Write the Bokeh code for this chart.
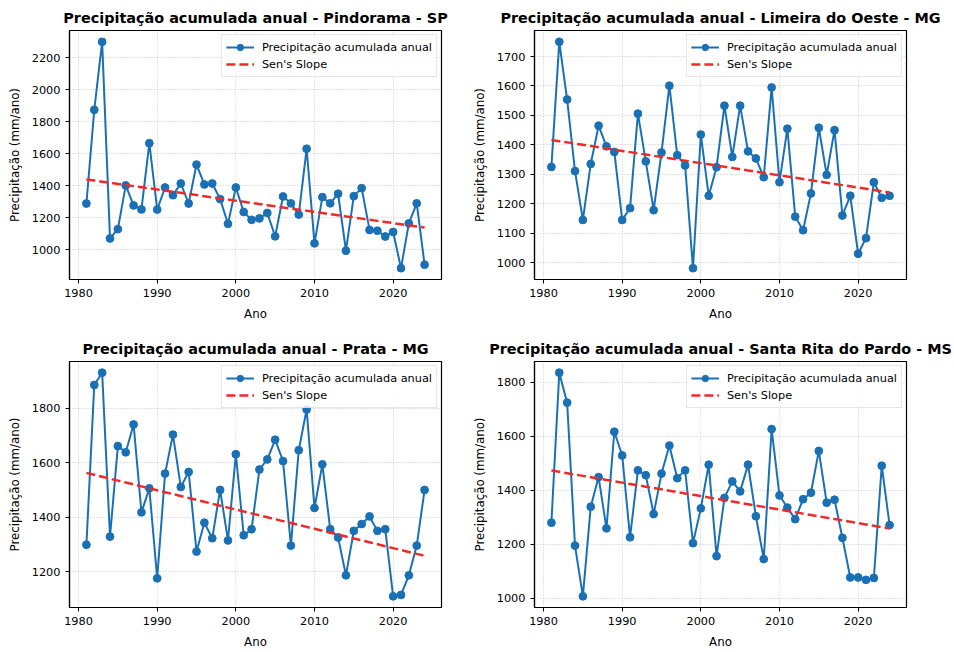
import numpy as np
from bokeh.plotting import figure
from bokeh.layouts import column, row
from bokeh.models import Range1d, Legend, LegendItem, FixedTicker
from bokeh.embed import file_html
from bokeh.resources import INLINE

years = list(range(1981, 2025))

pindorama = [1290, 1875, 2300, 1072, 1130, 1403, 1278, 1253, 1667, 1252,
             1390, 1342, 1415, 1290, 1533, 1409, 1415, 1318, 1163, 1390,
             1237, 1188, 1197, 1231, 1085, 1334, 1291, 1221, 1632, 1041,
             1330, 1291, 1351, 995, 1336, 1386, 1125, 1120, 1084, 1112,
             886, 1166, 1291, 908]
limeira = [1325, 1750, 1554, 1311, 1145, 1335, 1465, 1395, 1376, 1145,
           1185, 1506, 1344, 1178, 1374, 1601, 1365, 1330, 981, 1435,
           1227, 1324, 1533, 1359, 1533, 1378, 1354, 1290, 1595, 1273,
           1455, 1156, 1110, 1235, 1458, 1298, 1450, 1160, 1227, 1030,
           1083, 1273, 1220, 1227]
prata = [1299, 1885, 1930, 1329, 1661, 1638, 1740, 1418, 1506, 1176,
         1560, 1703, 1511, 1566, 1274, 1380, 1323, 1500, 1315, 1631,
         1334, 1356, 1575, 1612, 1684, 1606, 1296, 1646, 1795, 1434,
         1594, 1356, 1326, 1187, 1350, 1375, 1403, 1350, 1356, 1110,
         1115, 1187, 1296, 1500]
santa_rita = [1280, 1836, 1725, 1195, 1007, 1339, 1449, 1259, 1617, 1529,
              1226, 1474, 1456, 1312, 1462, 1566, 1445, 1474, 1204, 1333,
              1495, 1156, 1372, 1433, 1396, 1495, 1304, 1145, 1627, 1381,
              1336, 1293, 1367, 1391, 1546, 1354, 1365, 1224, 1077, 1077,
              1068, 1075, 1491, 1271]

titles = ["Precipitação acumulada anual - Pindorama - SP",
          "Precipitação acumulada anual - Limeira do Oeste - MG",
          "Precipitação acumulada anual - Prata - MG",
          "Precipitação acumulada anual - Santa Rita do Pardo - MS"]

x_ticks = [1980, 1990, 2000, 2010, 2020]
y_ticks_pindorama = [1000, 1200, 1400, 1600, 1800, 2000, 2200]
y_ticks_limeira = [1000, 1100, 1200, 1300, 1400, 1500, 1600, 1700]
y_ticks_prata = [1200, 1400, 1600, 1800]
y_ticks_santa_rita = [1000, 1200, 1400, 1600, 1800]

series_label = "Precipitação acumulada anual"
trend_label = "Sen's Slope"
x_label = "Ano"
y_label = "Precipitação (mm/ano)"

BLUE = "#1a70b5"
RED = "#ee2a2a"
FONT = "DejaVu Sans"


def sens_slope(x, y):
    x = np.asarray(x, float)
    y = np.asarray(y, float)
    slopes = []
    n = len(x)
    for i in range(n - 1):
        for j in range(i + 1, n):
            slopes.append((y[j] - y[i]) / (x[j] - x[i]))
    s = np.median(slopes)
    b = np.median(y) - s * np.median(x)
    return s * x + b


def make_panel(title, values, yticks, top, bottom, height, width, right):
    ymin, ymax = min(values), max(values)
    yspan = ymax - ymin
    xspan = years[-1] - years[0]
    p = figure(width=width, height=height, output_backend="svg",
               toolbar_location=None,
               x_range=Range1d(years[0] - 0.05 * xspan, years[-1] + 0.05 * xspan),
               y_range=Range1d(ymin - 0.05 * yspan, ymax + 0.05 * yspan),
               min_border_left=69, min_border_right=right,
               min_border_top=top, min_border_bottom=bottom)
    p.title.text = title
    p.title.align = "center"
    p.title.text_font = FONT
    p.title.text_font_size = "14.4px"
    p.title.text_font_style = "bold"
    p.title.text_color = "black"
    p.title.standoff = 10

    p.outline_line_color = "black"
    p.outline_line_width = 1.2
    p.outline_line_alpha = 1

    for ax in (p.xaxis[0], p.yaxis[0]):
        ax.axis_line_color = "black"
        ax.axis_line_width = 1.2
        ax.major_tick_line_color = "black"
        ax.major_tick_out = 4
        ax.major_tick_in = 0
        ax.minor_tick_line_color = None
        ax.major_label_text_font = FONT
        ax.major_label_text_font_size = "11.3px"
        ax.major_label_text_color = "black"
        ax.axis_label_text_font = FONT
        ax.axis_label_text_font_size = "11.8px"
        ax.axis_label_text_font_style = "normal"
        ax.axis_label_text_color = "black"
        ax.major_label_standoff = 5
        ax.axis_label_standoff = 7

    p.xaxis.ticker = FixedTicker(ticks=x_ticks)
    p.yaxis.ticker = FixedTicker(ticks=yticks)
    p.xaxis.axis_label = x_label
    p.yaxis.axis_label = y_label

    for g in (p.xgrid[0], p.ygrid[0]):
        g.grid_line_color = "#b0b0b0"
        g.grid_line_dash = "1 2"
        g.grid_line_alpha = 0.8
        g.grid_line_width = 0.9

    ln = p.line(years, values, line_color=BLUE, line_width=2)
    sc = p.scatter(years, values, size=7.8, fill_color=BLUE, line_color=BLUE)
    trend = sens_slope(years, values)
    tr = p.line(years, list(trend), line_color=RED, line_width=2.5,
                line_dash="9 4")

    legend = Legend(items=[LegendItem(label=series_label, renderers=[ln, sc]),
                           LegendItem(label=trend_label, renderers=[tr])],
                    location="top_right")
    legend.label_text_font = FONT
    legend.label_text_font_size = "11.3px"
    legend.label_text_color = "black"
    legend.glyph_width = 28
    legend.glyph_height = 16
    legend.label_height = 16
    legend.label_standoff = 8
    legend.spacing = 1
    legend.padding = 4
    legend.margin = 4
    legend.border_line_color = "#cccccc"
    legend.border_line_width = 1
    legend.background_fill_alpha = 0.85
    p.add_layout(legend)
    return p


p1 = make_panel(titles[0], pindorama, y_ticks_pindorama, 30, 42, 323, 465, 24)
p2 = make_panel(titles[1], limeira, y_ticks_limeira, 30, 42, 323, 489, 48)
p3 = make_panel(titles[2], prata, y_ticks_prata, 38, 41, 328, 465, 24)
p4 = make_panel(titles[3], santa_rita, y_ticks_santa_rita, 38, 41, 328, 489, 48)

layout = column(row(p1, p2), row(p3, p4))

open("out.html", "w").write(file_html(layout, INLINE))
